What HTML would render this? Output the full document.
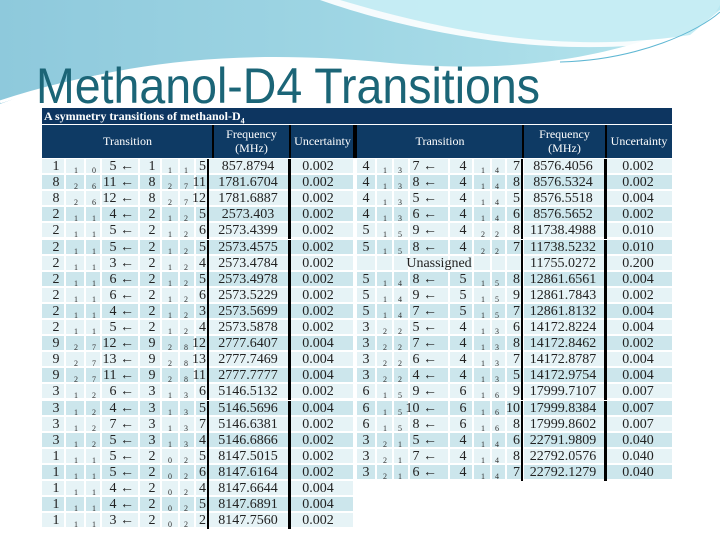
<!DOCTYPE html>
<html><head><meta charset="utf-8">
<style>
body{margin:0;width:720px;height:540px;overflow:hidden;background:#fff;position:relative;font-family:"Liberation Serif",serif;}
.abs{position:absolute;}
.c{position:absolute;}
.t{position:absolute;font-size:14px;line-height:16px;color:#222;white-space:nowrap;}
.s{position:absolute;font-size:8px;color:#333;}
.h{position:absolute;color:#fff;font-size:12px;text-align:center;line-height:14px;}
</style></head><body>
<svg class="abs" style="left:0;top:0" width="720" height="110">
<defs><linearGradient id="g1" x1="0" y1="0" x2="1" y2="0"><stop offset="0" stop-color="#8ec9dc"/><stop offset="0.5" stop-color="#9fd6e4"/><stop offset="1" stop-color="#b8e6ee"/></linearGradient></defs>
<path d="M0,0 H720 V10 C600,70 480,72 380,62 C250,50 120,58 0,104 Z" fill="url(#g1)"/>
<path d="M320,0 C420,35 560,60 680,40 C700,30 715,15 720,5 V0 Z" fill="#fff" opacity="0.9"/>
<path d="M340,0 C440,30 560,55 690,35 L720,10 V0 Z" fill="#b9e8f1" opacity="0.8"/>
<path d="M0,102 C120,62 250,54 380,64" stroke="#fff" stroke-width="3" fill="none"/>
<path d="M560,62 C640,60 700,30 720,12" stroke="#5fb7d3" stroke-width="1" fill="none"/>
</svg>
<svg class="abs" style="left:0;top:55" width="720" height="55">
<text x="36" y="48" font-family="Liberation Sans, sans-serif" font-size="50" fill="#1b6577" textLength="504" lengthAdjust="spacingAndGlyphs">Methanol-D4 Transitions</text>
</svg>
<div class="abs" style="left:42px;top:108px;width:630px;height:16px;background:#0d3560;color:#fff;font-weight:bold;font-size:12px;line-height:16px;padding-left:2px;box-sizing:border-box;">A symmetry transitions of methanol-D<sub style="font-size:8px">4</sub></div>
<div class="abs" style="left:42px;top:125px;width:630px;height:33px;background:#0e3a64;"></div>
<div id="tbl"></div>
<script>
const leftTrans=[["1","1","0","5","1","1","1","5"],["8","2","6","11","8","2","7","11"],["8","2","6","12","8","2","7","12"],["2","1","1","4","2","1","2","5"],["2","1","1","5","2","1","2","6"],["2","1","1","5","2","1","2","5"],["2","1","1","3","2","1","2","4"],["2","1","1","6","2","1","2","5"],["2","1","1","6","2","1","2","6"],["2","1","1","4","2","1","2","3"],["2","1","1","5","2","1","2","4"],["9","2","7","12","9","2","8","12"],["9","2","7","13","9","2","8","13"],["9","2","7","11","9","2","8","11"],["3","1","2","6","3","1","3","6"],["3","1","2","4","3","1","3","5"],["3","1","2","7","3","1","3","7"],["3","1","2","5","3","1","3","4"],["1","1","1","5","2","0","2","5"],["1","1","1","5","2","0","2","6"],["1","1","1","4","2","0","2","4"],["1","1","1","4","2","0","2","5"],["1","1","1","3","2","0","2","2"]];
const leftFreq=["857.8794","1781.6704","1781.6887","2573.403","2573.4399","2573.4575","2573.4784","2573.4978","2573.5229","2573.5699","2573.5878","2777.6407","2777.7469","2777.7777","5146.5132","5146.5696","5146.6381","5146.6866","8147.5015","8147.6164","8147.6644","8147.6891","8147.7560"];
const leftUnc=["0.002","0.002","0.002","0.002","0.002","0.002","0.002","0.002","0.002","0.002","0.002","0.004","0.004","0.004","0.002","0.004","0.002","0.002","0.002","0.002","0.004","0.004","0.002"];
const rightTrans=[["4","1","3","7","4","1","4","7"],["4","1","3","8","4","1","4","8"],["4","1","3","5","4","1","4","5"],["4","1","3","6","4","1","4","6"],["5","1","5","9","4","2","2","8"],["5","1","5","8","4","2","2","7"],null,["5","1","4","8","5","1","5","8"],["5","1","4","9","5","1","5","9"],["5","1","4","7","5","1","5","7"],["3","2","2","5","4","1","3","6"],["3","2","2","7","4","1","3","8"],["3","2","2","6","4","1","3","7"],["3","2","2","4","4","1","3","5"],["6","1","5","9","6","1","6","9"],["6","1","5","10","6","1","6","10"],["6","1","5","8","6","1","6","8"],["3","2","1","5","4","1","4","6"],["3","2","1","7","4","1","4","8"],["3","2","1","6","4","1","4","7"]];
const rightFreq=["8576.4056","8576.5324","8576.5518","8576.5652","11738.4988","11738.5232","11755.0272","12861.6561","12861.7843","12861.8132","14172.8224","14172.8462","14172.8787","14172.9754","17999.7107","17999.8384","17999.8602","22791.9809","22792.0576","22792.1279"];
const rightUnc=["0.002","0.002","0.004","0.002","0.010","0.010","0.200","0.004","0.002","0.004","0.004","0.002","0.004","0.004","0.007","0.007","0.007","0.040","0.040","0.040"];

const T=document.getElementById('tbl');
const top0=159, rh=16.1;
function mk(cls,css,txt){const e=document.createElement('div');e.className=cls;e.style.cssText=css;if(txt!==undefined)e.textContent=txt;T.appendChild(e);return e;}
function header(x0,cols){
  const names=["Transition","Frequency<br>(MHz)","Uncertainty"];
  cols.forEach((c,i)=>{const e=mk('h',`left:${c[0]}px;top:${i==1?127:134}px;width:${c[1]-c[0]}px;`);e.innerHTML=names[i];
    
    });
}
header(42,[[42,213],[213,290],[290,355]]);
header(357,[[357,523],[523,606],[606,672]]);
[213,290,523,606].forEach(x=>{const e=mk('abs',`left:${x-1}px;top:125px;width:2px;height:33px;background:#000;`);
  
  });
const hd=mk('abs','left:353px;top:125px;width:4px;height:33px;background:#000;');



function side(trans,freq,unc,cfg,nm){
  trans.forEach((tr,i)=>{
    const y=top0+i*rh;
    const bg=i%2?'#cce6ec':'#e6f3f6';
    cfg.cells.forEach(([a,b])=>{const e=mk('c',`left:${a}px;top:${y}px;width:${b-a-2}px;height:${rh-2}px;background:${bg};`);
      
      });
    const bars=[[cfg.bar1,2],[cfg.bar2,3]];
    bars.forEach(([x,w])=>{const e=mk('c',`left:${x}px;top:${y}px;width:${w}px;height:${rh}px;background:#000;`);
      
      });
    if(tr){
      const p=cfg.pos;
      [[tr[0],p.J],[tr[4],p.J2]].forEach(([v,x])=>{const e=mk('t',`left:${x-10}px;width:20px;text-align:center;top:${y}px;`,v);
        
        });
      [[tr[1],p.Ka],[tr[2],p.Kc],[tr[5],p.Ka2],[tr[6],p.Kc2]].forEach(([v,x])=>{const e=mk('s',`left:${x-5}px;width:10px;text-align:center;top:${y+7}px;`,v);
        
        });
      const f1=mk('t',`left:${p.F1-26}px;width:40px;text-align:right;top:${y}px;`,tr[3]+' \u2190');
      
      
      const f2=mk('t',`left:${p.F2-24}px;width:24px;text-align:right;top:${y}px;`,tr[7]);
      
      
    } else {
      const e=mk('t',`left:${cfg.cells[0][0]}px;width:${cfg.bar1-cfg.cells[0][0]}px;text-align:center;top:${y}px;`,'Unassigned');
      
      
    }
    const fe=mk('t',`left:${cfg.freq-45}px;width:90px;text-align:center;top:${y}px;`,freq[i]);
    
    
    const ue=mk('t',`left:${cfg.unc-30}px;width:60px;text-align:center;top:${y}px;`,unc[i]);
    
    
  });
}
side(leftTrans,leftFreq,leftUnc,{cells:[[42,66],[66,86],[86,102],[102,140],[140,162],[162,180],[180,196],[196,209],[209,290],[290,355]],bar1:207,bar2:288,freq:248,unc:318,
  pos:{J:56,Ka:76,Kc:94,F1:120,J2:152,Ka2:170,Kc2:186,F2:206}},'left-table');
side(rightTrans,rightFreq,rightUnc,{cells:[[357,377],[377,394],[394,410],[410,450],[450,474],[474,492],[492,507],[507,524],[524,607],[607,674]],bar1:521,bar2:604,freq:563,unc:638,
  pos:{J:366,Ka:385,Kc:400,F1:423,J2:463,Ka2:483,Kc2:497,F2:520}},'right-table');
</script>
</body></html>
